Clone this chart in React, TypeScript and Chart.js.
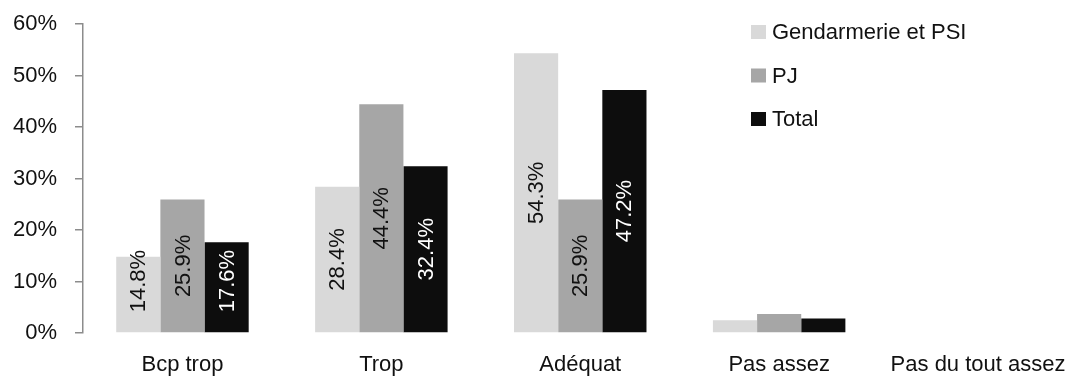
import React, { useEffect, useRef } from "react";
import { Chart, registerables } from "chart.js";

Chart.register(...registerables);

const categories = ["Bcp trop", "Trop", "Adéquat", "Pas assez", "Pas du tout assez"];
const seriesLabels = ["Gendarmerie et PSI", "PJ", "Total"];
const gendarmerie = [14.8, 28.4, 54.3, 2.5, 0];
const pj = [25.9, 44.4, 25.9, 3.7, 0];
const total = [17.6, 32.4, 47.2, 2.8, 0];
const yTicks = [0, 10, 20, 30, 40, 50, 60];

const colors = ["#d9d9d9", "#a6a6a6", "#0d0d0d"];
const labelColors = ["#111111", "#111111", "#ffffff"];
const FONT = "'Liberation Sans', Arial, sans-serif";

const labelPlugin = {
  id: "barLabels",
  afterDatasetsDraw(chart: any) {
    const ctx = chart.ctx;
    ctx.save();
    ctx.font = `22px ${FONT}`;
    ctx.textAlign = "center";
    ctx.textBaseline = "middle";
    chart.data.datasets.forEach((ds: any, di: number) => {
      const meta = chart.getDatasetMeta(di);
      meta.data.forEach((el: any, i: number) => {
        const v = ds.data[i];
        if (v < 5) return;
        const text = v.toFixed(1) + "%";
        const h = el.base - el.y;
        const tw = ctx.measureText(text).width;
        const c = el.base - Math.max(h / 2, tw / 2 + 20);
        ctx.save();
        ctx.translate(el.x, c);
        ctx.rotate(-Math.PI / 2);
        ctx.fillStyle = labelColors[di];
        ctx.fillText(text, 0, 1);
        ctx.restore();
      });
    });
    ctx.restore();
  },
};

const legendPlugin = {
  id: "customLegend",
  afterDraw(chart: any) {
    const ctx = chart.ctx;
    ctx.save();
    ctx.font = `22px ${FONT}`;
    ctx.textAlign = "left";
    ctx.textBaseline = "middle";
    chart.data.datasets.forEach((ds: any, i: number) => {
      const cy = 32 + i * 43.5;
      ctx.fillStyle = ds.backgroundColor;
      ctx.fillRect(751, cy - 7, 15, 14);
      ctx.fillStyle = "#111111";
      ctx.fillText(ds.label, 772, cy + 1);
    });
    ctx.restore();
  },
};

export default function App() {
  const ref = useRef<HTMLCanvasElement | null>(null);
  useEffect(() => {
    if (!ref.current) return;
    const chart = new Chart(ref.current, {
      type: "bar",
      data: {
        labels: categories,
        datasets: [gendarmerie, pj, total].map((d, i) => ({
          label: seriesLabels[i],
          data: d,
          backgroundColor: colors[i],
          borderWidth: 0,
          barPercentage: 1,
          categoryPercentage: 0.666,
        })),
      },
      options: {
        animation: false,
        responsive: false,
        maintainAspectRatio: false,
        layout: {
          autoPadding: false,
          padding: { top: 24, right: 12.5, bottom: 0, left: 0 },
        },
        plugins: {
          legend: { display: false },
          tooltip: { enabled: false },
        },
        scales: {
          x: {
            grid: { display: false, drawTicks: false },
            border: { display: false },
            ticks: {
              color: "#111111",
              font: { family: FONT, size: 22 },
              padding: 19,
              maxRotation: 0,
              autoSkip: false,
            },
            afterFit(scale: any) {
              scale.height = 46;
              scale.paddingLeft = 0;
              scale.paddingRight = 0;
            },
          },
          y: {
            min: 0,
            max: 60,
            afterBuildTicks(scale: any) {
              scale.ticks = yTicks.map((v) => ({ value: v }));
            },
            grid: {
              drawOnChartArea: false,
              drawTicks: true,
              tickLength: 8,
              color: "#8c8c8c",
              lineWidth: 1.5,
            },
            border: { display: true, color: "#8c8c8c", width: 1.5 },
            ticks: {
              color: "#111111",
              font: { family: FONT, size: 22 },
              padding: 18,
              callback: (v: any) => v + "%",
            },
            afterFit(scale: any) {
              scale.width = 83;
              scale.paddingTop = 0;
              scale.paddingBottom = 0;
            },
          },
        },
      },
      plugins: [labelPlugin, legendPlugin],
    });
    return () => chart.destroy();
  }, []);
  return (
    <div
      style={{
        position: "fixed",
        left: 0,
        top: 0,
        width: 1070,
        height: 379,
        overflow: "hidden",
        background: "#ffffff",
      }}
    >
      <canvas ref={ref} width={1090} height={379} style={{ display: "block" }} />
    </div>
  );
}
